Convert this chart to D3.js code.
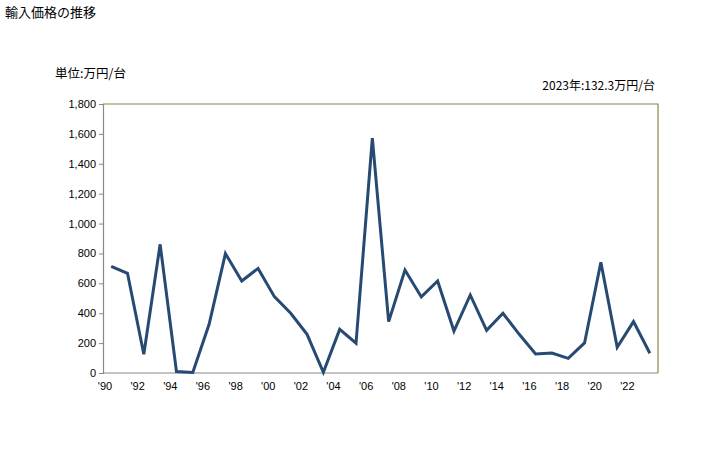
<!DOCTYPE html>
<html><head><meta charset="utf-8">
<script src="https://cdn.jsdelivr.net/npm/d3@7"></script>
<style>body{margin:0;background:#fff;} text{font-family:"Noto Sans CJK JP","Noto Sans",sans-serif;} .num text{font-family:"Liberation Sans",Arial,sans-serif;}</style>
</head><body>
<svg id="c" width="728" height="450"></svg>
<script>
const years = d3.range(1990, 2024);
const values = [714,667,125,861,10,3,326,799,616,700,511,400,259,5,292,199,1571,344,689,509,616,281,522,286,400,259,127,134,98,201,741,172,344,132.3];
const yTicks = [0,200,400,600,800,1000,1200,1400,1600,1800];
const xTickYears = d3.range(1990, 2024, 2);

const svg = d3.select("#c");
const L=103, R=658, T=104, B=373;
const x = d3.scaleBand().domain(years).range([L,R]);
const y = d3.scaleLinear().domain([0,1800]).range([B,T]);

svg.append("text").attr("x",5).attr("y",17).attr("font-size",13).text("輸入価格の推移");
svg.append("text").attr("x",55).attr("y",78).attr("font-size",12.5).text("単位:万円/台");
svg.append("text").attr("x",655).attr("y",90).attr("font-size",12).attr("text-anchor","end").text("2023年:132.3万円/台");

// border top/right
svg.append("path").attr("d",`M${L},${T}H${R}V${B}`).attr("fill","none").attr("stroke","#8c8648").attr("stroke-width",1.2);

const ya = svg.append("g").attr("class","num").attr("transform",`translate(${L},0)`)
  .call(d3.axisLeft(y).tickValues(yTicks).tickSize(4).tickFormat(d3.format(",")));
ya.select(".domain").attr("stroke","#888").attr("stroke-width",1.2);
ya.selectAll(".tick line").attr("stroke","#888");
ya.selectAll("text").attr("font-size",11).attr("fill","#000");

const xa = svg.append("g").attr("class","num").attr("transform",`translate(0,${B})`)
  .call(d3.axisBottom(x).tickValues(xTickYears).tickSize(0).tickPadding(9).tickFormat(d=>"'"+String(d).slice(2)));
xa.select(".domain").attr("stroke","#888").attr("stroke-width",1.2).attr("d",`M${L},0H${R}`);
xa.selectAll(".tick text").attr("font-size",11).attr("fill","#000")
  .attr("x", -x.bandwidth()/2 + 2);

const line = d3.line().x((d,i)=>x(years[i])+x.bandwidth()/2).y(d=>y(d));
svg.append("path").datum(values).attr("d",line).attr("fill","none")
  .attr("stroke","#264a72").attr("stroke-width",3).attr("stroke-linejoin","miter");
</script>
</body></html>
